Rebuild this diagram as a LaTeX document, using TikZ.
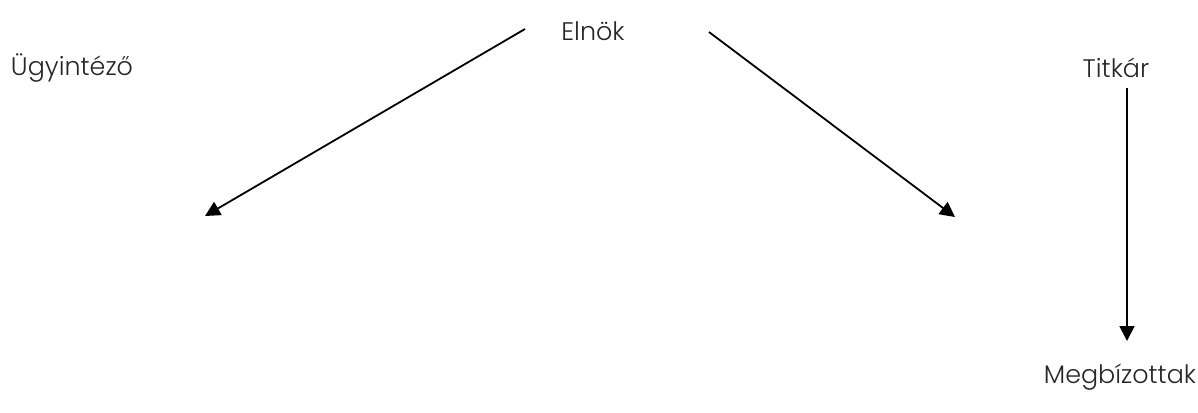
\documentclass[tikz,border=0pt]{standalone}
\usepackage{fontspec}
\setmainfont{Poppins Light}
\usetikzlibrary{arrows.meta}
\begin{document}
\begin{tikzpicture}[x=1bp,y=-1bp,
  lbl/.style={inner sep=0pt,font=\fontsize{25.5}{28}\selectfont,text=black!85},
  conn/.style={line width=1.8bp,-{Triangle[length=15bp,width=15bp]}}]
\useasboundingbox (0,0) rectangle (1198,412);
\node[lbl] (elnok) at (593,31) {Elnök};
\node[lbl] (ugy) at (72,68) {Ügyintéző};
\node[lbl] (titkar) at (1116,68) {Titkár};
\node[lbl] (megb) at (1120,377) {Megbízottak};
\coordinate (a1s) at (525,29);
\coordinate (a1e) at (205,216);
\coordinate (a2s) at (709,32);
\coordinate (a2e) at (955,217);
\coordinate (a3s) at (1127,88);
\coordinate (a3e) at (1127,341);
\draw[conn] (a1s) -- (a1e);
\draw[conn] (a2s) -- (a2e);
\draw[conn] (a3s) -- (a3e);
\end{tikzpicture}
\end{document}
